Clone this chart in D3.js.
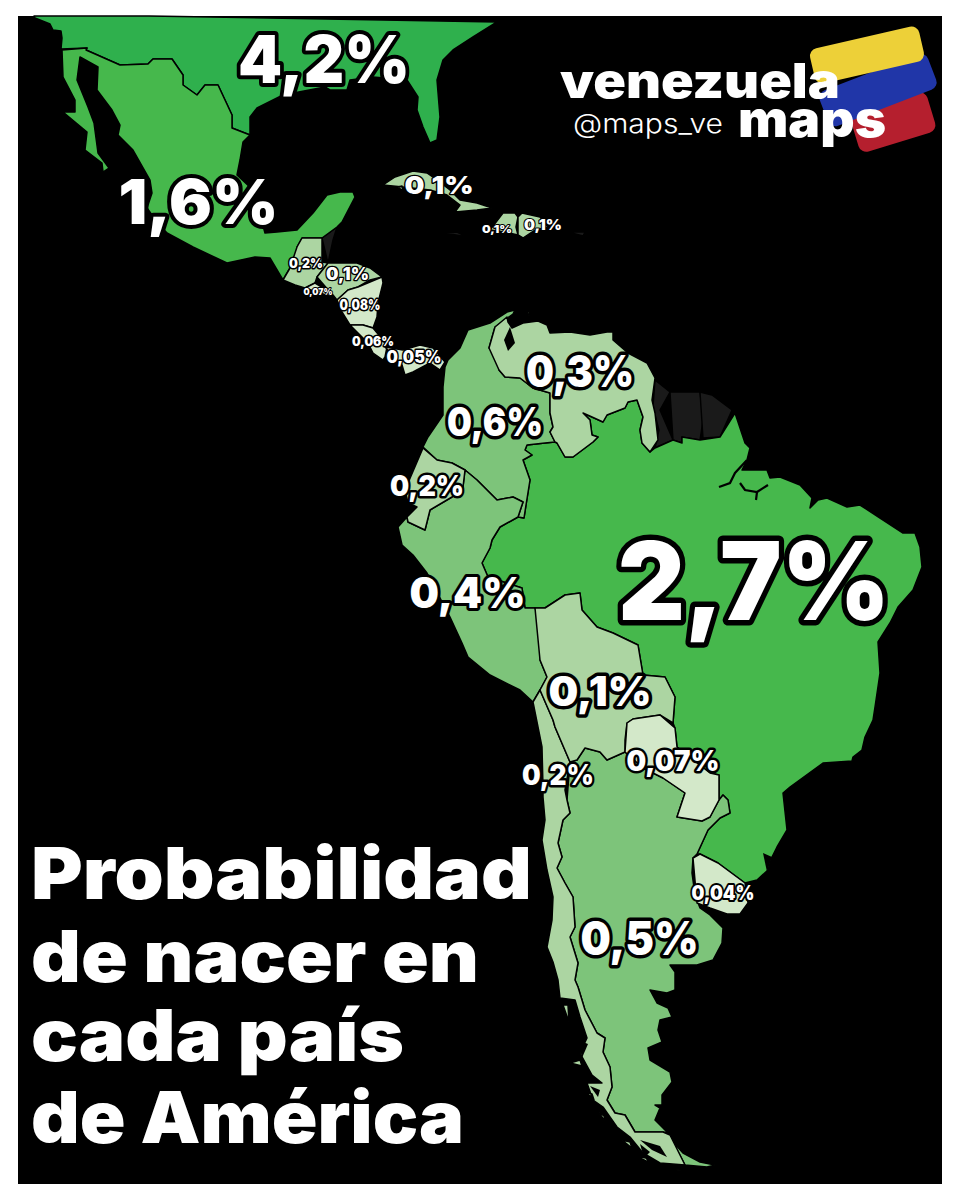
<!DOCTYPE html>
<html>
<head>
<meta charset="utf-8">
<script src="https://cdn.jsdelivr.net/npm/d3@7"></script>
<style>
  html, body { margin: 0; padding: 0; background: #fff; }
  svg { display: block; }
  text { font-family: Inter, Lato, "Open Sans", sans-serif; }
</style>
</head>
<body>
<div id="chart"></div>
<script>
const WIDTH = 957, HEIGHT = 1200;
const PANEL = { left: 18, top: 16, right: 942, bottom: 1184 };

// Share of births per country, in percent
const countries = ['Estados Unidos', 'México', 'Brasil', 'Colombia', 'Argentina', 'Perú', 'Venezuela', 'Ecuador', 'Chile', 'Bolivia', 'Guatemala', 'Honduras', 'Cuba', 'Haití', 'Rep. Dominicana', 'Nicaragua', 'Paraguay', 'El Salvador', 'Costa Rica', 'Panamá', 'Uruguay'];
const shares = [4.2, 1.6, 2.7, 0.6, 0.5, 0.4, 0.3, 0.2, 0.2, 0.1, 0.2, 0.1, 0.1, 0.1, 0.1, 0.08, 0.07, 0.07, 0.06, 0.05, 0.04];

// Outlines, in map units
const outlines = {
    'Estados Unidos': [[[33,14],[35,18],[50,24],[53,30],[61,31],[62,38],[61,49],[87,48],[86,50],[120,65],[148,64],[153,59],[172,59],[183,75],[183,85],[197,95],[205,85],[218,85],[225,100],[232,115],[232,128],[250,135],[250,117],[257,108],[283,95],[325,87],[330,90],[347,90],[350,80],[373,77],[407,80],[418,97],[417,110],[423,127],[430,143],[437,140],[440,117],[437,80],[443,60],[453,50],[473,37],[497,22],[507,14]]],
    'México': [[[62,50],[63,77],[75,100],[75,112],[63,112],[75,122],[87,132],[85,150],[102,163],[103,172],[109,168],[98,153],[94,123],[88,107],[77,80],[80,57],[98,67],[97,90],[112,110],[120,125],[118,135],[133,150],[150,180],[152,193],[147,208],[157,222],[167,233],[193,247],[227,263],[255,257],[270,258],[283,280],[290,268],[307,262],[297,247],[302,238],[322,238],[337,227],[342,222],[355,197],[353,192],[340,192],[327,195],[313,213],[297,230],[277,232],[265,233],[253,190],[237,175],[240,160],[243,142],[250,135],[232,128],[232,115],[225,100],[218,85],[205,85],[197,95],[183,85],[183,75],[172,59],[153,59],[148,64],[120,65],[86,50],[87,48],[61,49]]],
    'Guatemala': [[[297,247],[302,238],[322,238],[322,262],[328,263],[317,277],[315,283],[305,288],[295,285],[283,280],[290,268],[307,262]]],
    'Honduras': [[[317,277],[328,263],[357,263],[370,268],[382,277],[370,280],[358,287],[348,290],[337,300],[333,295],[330,292],[315,283]]],
    'El Salvador': [[[305,288],[315,283],[330,292],[332,297],[320,295]]],
    'Nicaragua': [[[382,277],[383,283],[378,303],[377,317],[373,328],[363,325],[350,325],[342,312],[337,300],[348,290],[358,287],[370,280]]],
    'Costa Rica': [[[350,325],[363,325],[373,328],[383,340],[387,347],[385,357],[383,360],[373,353],[368,343],[352,335]]],
    'Panamá': [[[385,347],[403,350],[420,345],[433,348],[445,362],[440,370],[430,363],[413,372],[405,375],[402,365],[387,363]]],
    'Colombia': [[[445,367],[448,360],[460,348],[468,330],[490,323],[507,312],[515,310],[513,314],[495,327],[489,348],[497,355],[499,370],[505,377],[520,378],[533,388],[550,393],[550,413],[553,427],[550,432],[555,442],[545,443],[527,445],[525,450],[532,455],[523,460],[530,480],[526,505],[524,518],[518,517],[523,502],[513,497],[497,500],[487,490],[477,480],[465,470],[452,463],[437,460],[423,447],[428,437],[443,415],[443,387],[438,375]]],
    'Venezuela': [
        [[489,348],[495,327],[507,317],[508,322],[512,328],[523,323],[538,321],[547,325],[550,333],[570,332],[590,335],[607,332],[613,332],[613,340],[628,353],[647,363],[655,378],[652,400],[655,413],[658,440],[650,452],[642,443],[640,430],[643,417],[637,400],[628,402],[625,408],[607,415],[603,422],[592,417],[583,413],[590,420],[592,435],[598,437],[593,442],[573,457],[565,457],[557,443],[555,442],[550,432],[553,427],[550,413],[550,393],[533,388],[520,378],[505,377],[499,370],[497,355]],
        [[527,311],[530,312],[529,316],[526,315]]
    ],
    'Ecuador': [[[423,448],[437,460],[452,463],[465,470],[463,487],[452,497],[430,510],[425,530],[408,522],[407,517],[417,507],[408,503],[405,490],[410,460]]],
    'Perú': [[[398,527],[407,517],[408,522],[425,530],[430,510],[452,497],[463,487],[465,470],[477,480],[487,490],[497,500],[513,497],[523,502],[518,517],[500,527],[492,540],[490,548],[482,563],[488,577],[522,588],[525,608],[535,608],[543,627],[540,660],[547,677],[540,690],[533,702],[520,690],[490,675],[468,657],[462,643],[450,617],[427,573],[413,555],[402,545],[400,537]]],
    'Brasil': [[[735,413],[745,443],[750,448],[747,460],[742,470],[767,470],[770,478],[780,477],[800,485],[812,498],[810,508],[818,500],[827,498],[847,507],[860,505],[880,518],[903,533],[915,533],[920,547],[922,567],[913,590],[898,607],[890,623],[878,642],[880,673],[875,707],[873,720],[865,737],[862,750],[853,757],[852,761],[823,763],[790,787],[783,793],[787,830],[777,847],[772,857],[768,870],[757,880],[745,883],[718,863],[700,854],[697,854],[708,830],[720,818],[730,813],[728,800],[723,795],[719,800],[719,775],[710,773],[677,747],[675,728],[673,723],[675,697],[665,677],[643,675],[638,645],[613,633],[597,627],[582,610],[580,593],[565,595],[545,608],[535,608],[525,608],[522,588],[488,577],[482,563],[490,548],[492,540],[500,527],[518,517],[524,518],[526,505],[530,480],[523,460],[532,455],[525,450],[527,445],[545,443],[555,442],[557,443],[565,457],[573,457],[593,442],[598,437],[592,435],[590,420],[583,413],[592,417],[603,422],[607,415],[625,408],[628,402],[637,400],[643,417],[640,430],[642,443],[650,452],[655,448],[673,440],[682,443],[682,437],[700,440],[720,437],[732,410]]],
    'Bolivia': [[[535,608],[545,608],[565,595],[580,593],[582,610],[597,627],[613,633],[638,645],[643,675],[665,677],[675,697],[673,723],[660,715],[633,719],[627,723],[625,740],[625,752],[607,760],[600,752],[585,748],[577,760],[570,762],[555,727],[553,720],[540,690],[547,677],[540,660],[543,627]]],
    'Paraguay': [[[627,723],[633,719],[660,715],[675,728],[677,747],[710,773],[719,775],[719,800],[710,817],[702,821],[677,817],[685,793],[663,778],[643,768],[625,752],[625,740]]],
    'Uruguay': [[[693,858],[700,854],[718,863],[745,883],[748,903],[740,914],[727,914],[710,908],[697,903],[692,873]]],
    'Chile': [
        [[533,702],[540,690],[553,720],[555,727],[570,762],[565,790],[567,800],[570,813],[563,820],[558,843],[562,857],[557,868],[565,883],[573,897],[575,927],[570,937],[578,963],[575,980],[578,987],[585,1010],[597,1033],[605,1038],[603,1052],[610,1067],[612,1087],[607,1100],[615,1113],[625,1115],[635,1132],[663,1132],[670,1135],[675,1145],[685,1165],[660,1163],[643,1153],[630,1137],[617,1127],[603,1107],[593,1100],[587,1083],[602,1083],[592,1075],[580,1053],[587,1038],[580,1017],[575,1000],[560,998],[558,980],[553,962],[547,947],[552,920],[553,897],[547,870],[542,840],[545,820],[543,797],[543,787],[542,747],[538,727]],
        [[563,1005],[568,1005],[569,1022],[566,1022]],
        [[570,1063],[580,1060],[582,1066],[572,1068]],
        [[586,1092],[592,1094],[594,1100],[588,1098]],
        [[598,1112],[604,1116],[606,1122],[600,1119]],
        [[622,1140],[630,1142],[632,1148],[625,1146]],
        [[636,1156],[646,1158],[650,1163],[640,1161]],
        [[676,1170],[692,1169],[698,1171],[682,1173]]
    ],
    'Argentina': [
        [[570,762],[577,760],[585,748],[600,752],[607,760],[625,752],[643,768],[663,778],[685,793],[677,817],[702,821],[710,817],[719,800],[723,795],[728,800],[730,813],[720,818],[708,830],[697,854],[693,858],[692,873],[695,895],[700,908],[710,915],[723,928],[722,943],[713,960],[697,965],[670,965],[675,972],[675,990],[667,993],[650,990],[657,1003],[668,1008],[672,1017],[660,1020],[658,1030],[662,1042],[648,1048],[650,1060],[670,1072],[672,1082],[662,1095],[662,1105],[655,1105],[660,1108],[655,1120],[663,1128],[668,1133],[663,1132],[635,1132],[625,1115],[615,1113],[607,1100],[612,1087],[610,1067],[603,1052],[605,1038],[597,1033],[585,1010],[578,987],[575,980],[578,963],[570,937],[575,927],[573,897],[565,883],[557,868],[562,857],[558,843],[563,820],[570,813],[567,800],[565,790]],
        [[673,1142],[683,1153],[700,1162],[715,1165],[707,1167],[685,1165],[675,1145]]
    ],
    'Cuba': [
        [[383,185],[395,177],[413,171],[427,173],[437,180],[450,190],[460,200],[477,203],[492,208],[477,210],[455,212],[460,205],[447,195],[430,190],[403,187],[400,192]],
        [[398,187],[402,186],[403,191],[399,191]]
    ],
    'Haití': [[[503,213],[515,213],[518,217],[516,227],[518,235],[505,232],[490,230],[498,228]]],
    'Rep. Dominicana': [[[518,217],[522,213],[540,217],[548,227],[535,230],[523,238],[518,235],[516,227]]]
};

// Territories without a figure
const unlabelled = [
    [[[655,380],[670,392],[660,410],[673,440],[655,448],[659,430],[653,407],[651,400]]],
    [[[670,392],[700,392],[703,420],[700,440],[682,437],[682,443],[673,440],[660,410]]],
    [[[700,392],[712,395],[732,410],[720,437],[703,438],[703,420]]],
    [[[322,238],[337,227],[333,240],[328,263],[322,262]]],
    [[[445,233],[457,232],[467,237],[453,237]]],
    [[[568,232],[585,232],[583,236],[570,236]]]
];

// Inland water and the fjord coast
const water = [
    [[[510,327],[504,340],[508,351],[515,343],[512,333]]],
    [[[763,853],[772,857],[767,872],[757,878]]],
    [[[640,1140],[652,1150],[667,1157],[660,1146],[650,1140]]],
    [[[578,1040],[588,1044],[582,1058],[574,1056]]],
    [[[590,1086],[600,1090],[598,1097],[590,1094]]],
    [[[612,1130],[622,1136],[618,1142],[610,1136]]],
    [[[640,1144],[650,1152],[644,1158],[636,1150]]]
];
const rivers = [
    [[747,460],[735,473],[730,483],[719,487]],
    [[740,483],[745,490],[757,492],[768,485]],
    [[757,492],[756,500]]
];

const titleLines = ['Probabilidad', 'de nacer en', 'cada país', 'de América'];

const color = d3.scaleThreshold()
    .domain([0.09, 0.35, 1, 3])
    .range(['#d3e8c9', '#acd5a2', '#7dc47a', '#46b84c', '#2fb04d']);

const pct = v => String(v).replace('.', ',') + '%';

const svg = d3.select('#chart').append('svg')
    .attr('width', WIDTH)
    .attr('height', HEIGHT)
    .attr('viewBox', `0 0 ${WIDTH} ${HEIGHT}`);

svg.append('rect').attr('width', WIDTH).attr('height', HEIGHT).attr('fill', '#fff');
svg.append('rect')
    .attr('x', PANEL.left).attr('y', PANEL.top)
    .attr('width', PANEL.right - PANEL.left).attr('height', PANEL.bottom - PANEL.top)
    .attr('fill', '#000');

const projection = d3.geoIdentity()
    .clipExtent([[PANEL.left, PANEL.top], [PANEL.right, PANEL.bottom]]);
const path = d3.geoPath(projection);

const map = svg.append('g');

map.selectAll('path.other')
    .data(unlabelled)
    .join('path')
    .attr('class', 'other')
    .attr('d', d => path({ type: 'Polygon', coordinates: d }))
    .attr('fill', '#1a1a1a')
    .attr('stroke', '#000')
    .attr('stroke-width', 1.4);

map.selectAll('path.country')
    .data(countries)
    .join('path')
    .attr('class', 'country')
    .attr('d', name => {
        const rings = outlines[name];
        return rings.map(r => path({ type: 'Polygon', coordinates: [r] })).join('');
    })
    .attr('fill', (name, i) => color(shares[i]))
    .attr('stroke', '#000')
    .attr('stroke-width', 1.5)
    .attr('stroke-linejoin', 'round');

map.selectAll('path.water')
    .data(water)
    .join('path')
    .attr('class', 'water')
    .attr('d', d => path({ type: 'Polygon', coordinates: d }))
    .attr('fill', '#000');

map.selectAll('path.river')
    .data(rivers)
    .join('path')
    .attr('class', 'river')
    .attr('d', d => path({ type: 'LineString', coordinates: d }))
    .attr('fill', 'none')
    .attr('stroke', '#000')
    .attr('stroke-width', 2.2);

// Label layout per country: centre x, baseline y, font size, outline width, text width
const labelLayout = {
    'Estados Unidos': [324, 83, 66, 8, 172],
    'México': [198.5, 224, 62, 8, 160],
    'Brasil': [754, 620, 108, 11, 272],
    'Colombia': [495, 436, 40, 7, 96],
    'Argentina': [639.5, 955, 47, 7, 118],
    'Perú': [467.5, 608, 42, 6, 116],
    'Venezuela': [580, 387, 44, 7, 108],
    'Ecuador': [427, 496, 29, 5, 74],
    'Chile': [558, 785, 28, 5, 72],
    'Bolivia': [600, 706, 41, 7, 103],
    'Guatemala': [306, 268, 13, 3, 34],
    'Honduras': [347.5, 280, 17, 2.5, 43],
    'Cuba': [439, 194, 25, 2.5, 69],
    'Haití': [497, 233, 11, 2, 30],
    'Rep. Dominicana': [543, 230, 14, 2, 38],
    'Nicaragua': [360, 310, 14, 3, 41],
    'Paraguay': [673, 771, 28, 5, 93],
    'El Salvador': [318, 295, 9, 2, 29],
    'Costa Rica': [373, 346, 13, 3, 42],
    'Panamá': [414, 363, 17, 3, 55],
    'Uruguay': [723, 900, 20, 4, 63]
};

svg.append('g').selectAll('text')
    .data(countries)
    .join('text')
    .attr('x', name => labelLayout[name][0])
    .attr('y', name => labelLayout[name][1])
    .attr('font-size', name => labelLayout[name][2])
    .attr('stroke-width', name => labelLayout[name][3])
    .attr('textLength', name => labelLayout[name][4])
    .attr('lengthAdjust', 'spacingAndGlyphs')
    .attr('text-anchor', 'middle')
    .attr('font-weight', 900)
    .attr('fill', '#fff')
    .attr('stroke', '#000')
    .attr('stroke-linejoin', 'round')
    .attr('paint-order', 'stroke')
    .text((name, i) => pct(shares[i]));

svg.append('g').selectAll('text')
    .data(titleLines)
    .join('text')
    .attr('x', 31)
    .attr('y', (d, i) => [899, 982, 1061, 1143][i])
    .attr('font-size', 72)
    .attr('font-weight', 900)
    .attr('textLength', (d, i) => [501, 448, 373, 433][i])
    .attr('lengthAdjust', 'spacingAndGlyphs')
    .attr('fill', '#fff')
    .text(d => d);

// Logo
const logo = svg.append('g');
[
    { cx: 893, cy: 122, w: 80, h: 42, rot: -17, fill: '#b51f2e' },
    { cx: 878, cy: 90, w: 116, h: 38, rot: -21, fill: '#2036a8' },
    { cx: 867, cy: 55, w: 112, h: 36, rot: -13, fill: '#edd038' }
].forEach(b => {
    logo.append('rect')
        .attr('x', b.cx - b.w / 2).attr('y', b.cy - b.h / 2)
        .attr('width', b.w).attr('height', b.h)
        .attr('rx', 8)
        .attr('transform', `rotate(${b.rot} ${b.cx} ${b.cy})`)
        .attr('fill', b.fill);
});
logo.append('text').attr('x', 560).attr('y', 98).attr('font-size', 48).attr('font-weight', 900)
    .attr('textLength', 280).attr('lengthAdjust', 'spacingAndGlyphs').attr('fill', '#fff').text('venezuela');
logo.append('text').attr('x', 738).attr('y', 137).attr('font-size', 50).attr('font-weight', 900)
    .attr('textLength', 148).attr('lengthAdjust', 'spacingAndGlyphs').attr('fill', '#fff').text('maps');
logo.append('text').attr('x', 573).attr('y', 133).attr('font-size', 27).attr('font-weight', 300)
    .attr('textLength', 150).attr('lengthAdjust', 'spacingAndGlyphs').attr('fill', '#fff').text('@maps_ve');
</script>
</body>
</html>
